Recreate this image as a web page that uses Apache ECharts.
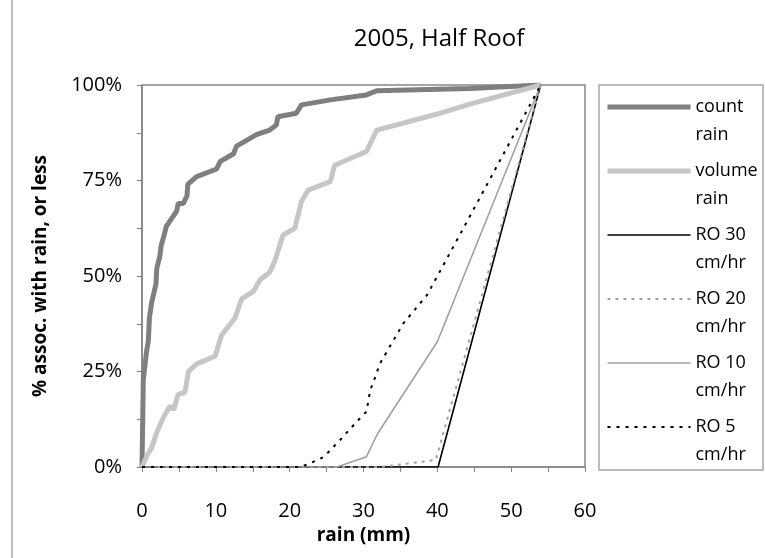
<!DOCTYPE html>
<html>
<head>
<meta charset="utf-8">
<script src="https://cdn.jsdelivr.net/npm/echarts@6/dist/echarts.min.js"></script>
<style>html,body{margin:0;padding:0;background:#fff;}#c{width:765px;height:558px;}</style>
</head>
<body>
<div id="c"></div>
<script>
const titleText = '2005, Half Roof';
const xName = 'rain (mm)';
const yName = '% assoc. with rain, or less';
const seriesNames = ['count rain', 'volume rain', 'RO 30 cm/hr', 'RO 20 cm/hr', 'RO 10 cm/hr', 'RO 5 cm/hr'];
const legendLines = [['count', 'rain'], ['volume', 'rain'], ['RO 30', 'cm/hr'], ['RO 20', 'cm/hr'], ['RO 10', 'cm/hr'], ['RO 5', 'cm/hr']];

const countX = [0, 0.18, 0.18, 0.6, 0.86, 1.0, 1.3, 1.9, 2.0, 2.4, 2.6, 2.9, 3.3, 4.0, 4.7, 4.9, 5.6, 6.1, 6.2, 7.4, 10.1, 10.6, 12.4, 12.8, 13.7, 15.5, 17.3, 18.2, 18.4, 20.9, 21.6, 25.5, 30.4, 31.8, 44.4, 54];
const countY = [0, 0, 23, 30, 33, 39, 43, 48, 52, 55, 58, 60, 63, 65, 67, 69, 69, 71, 74, 76, 78, 80, 82, 84, 85, 87, 88.2, 89.5, 91.7, 92.6, 94.8, 96.1, 97.4, 98.5, 99.1, 100];

const volumeX = [0, 0.68, 1.3, 2.0, 2.9, 3.8, 4.3, 4.9, 5.8, 6.3, 7.4, 9.9, 10.8, 12.6, 13.5, 15.1, 16.0, 17.3, 18.0, 19.1, 20.7, 21.6, 22.5, 25.5, 26.1, 30.4, 31.8, 40, 44.4, 54];
const volumeY = [0, 3, 5, 9, 13, 16, 15, 19, 19.5, 25, 27, 29, 34.6, 39, 44, 46, 49, 51, 54, 60.7, 62.5, 69.5, 72.5, 74.7, 79, 82.6, 88.2, 92.4, 95, 100];

const ro30X = [0, 40.1, 54];
const ro30Y = [0, 0, 100];
const ro20X = [0, 32.3, 38, 39.8, 54];
const ro20Y = [0, 0, 1.4, 1.9, 100];
const ro10X = [0, 26.4, 30.4, 31.9, 40, 54];
const ro10Y = [0, 0, 2.7, 8.7, 32.8, 100];
const ro5X = [0, 21.5, 22.8, 24.6, 26.8, 28.2, 29.3, 30.4, 30.9, 31.6, 32.2, 35.4, 38.6, 41.7, 45.6, 54];
const ro5Y = [0, 0, 1, 2.6, 7, 10, 12.3, 14.5, 20, 23.6, 27, 37.6, 45, 56, 69.9, 100];

const xTicks = {min: 0, max: 60, interval: 10};
const yTicks = {min: 0, max: 100, interval: 25};

function pairs(xs, ys) { return xs.map((x, i) => [x, ys[i]]); }

const FONT = '"Open Sans", "Noto Sans", sans-serif';
const chart = echarts.init(document.getElementById('c'), null, {renderer: 'canvas'});

const styles = [
  {color: '#7f7f7f', width: 5, type: 'solid'},
  {color: '#c6c6c6', width: 5, type: 'solid'},
  {color: '#000000', width: 1.6, type: 'solid'},
  {color: '#a0a0a0', width: 2, type: [3, 5]},
  {color: '#a0a0a0', width: 1.6, type: 'solid'},
  {color: '#000000', width: 2, type: [3, 6]}
];
const datas = [pairs(countX, countY), pairs(volumeX, volumeY), pairs(ro30X, ro30Y), pairs(ro20X, ro20Y), pairs(ro10X, ro10Y), pairs(ro5X, ro5Y)];

chart.setOption({
  animation: false,
  backgroundColor: '#fff',
  graphic: [
    {type: 'rect', shape: {x: 12, y: -5, width: 800, height: 600}, style: {fill: 'none', stroke: '#a6a6a6', lineWidth: 1.5}, z: -1},
    {type: 'rect', shape: {x: 599, y: 85, width: 164, height: 385}, style: {fill: '#fff', stroke: '#a6a6a6', lineWidth: 1.5}, z: 0}
  ],
  title: {
    text: titleText, left: 434, top: 22, textAlign: 'center',
    textStyle: {fontFamily: FONT, fontSize: 24, fontWeight: 'normal', color: '#000'}
  },
  legend: {
    orient: 'vertical', left: 605, top: 65, padding: 0, itemGap: -20,
    itemWidth: 83, itemHeight: 14,
    data: seriesNames,
    itemStyle: {opacity: 0},
    lineStyle: {width: 'inherit', type: 'inherit', color: 'inherit'},
    formatter: function (name) {
      const l = legendLines[seriesNames.indexOf(name)];
      return '\n' + l[0] + '\n' + l[1];
    },
    textStyle: {fontFamily: FONT, fontSize: 18, color: '#000', lineHeight: 28},
    z: 5
  },
  grid: {left: 142, right: 180, top: 85, bottom: 91, show: true, borderColor: '#868686', borderWidth: 1.5},
  xAxis: {
    type: 'value', min: xTicks.min, max: xTicks.max, interval: xTicks.interval,
    name: xName, nameLocation: 'middle', nameGap: 59,
    nameTextStyle: {fontFamily: FONT, fontSize: 19, fontWeight: 'bold', color: '#000'},
    axisLine: {lineStyle: {color: '#868686', width: 1.5}},
    axisTick: {show: true, length: 5, lineStyle: {color: '#868686'}},
    minorTick: {show: true, splitNumber: 2, length: 5, lineStyle: {color: '#868686'}},
    splitLine: {show: false},
    axisLabel: {fontFamily: FONT, fontSize: 20, color: '#000', margin: 34}
  },
  yAxis: {
    type: 'value', min: yTicks.min, max: yTicks.max, interval: yTicks.interval,
    name: yName, nameLocation: 'middle', nameGap: 92,
    nameTextStyle: {fontFamily: FONT, fontSize: 19, fontWeight: 'bold', color: '#000'},
    axisLine: {show: true, lineStyle: {color: '#868686', width: 1.5}},
    axisTick: {show: true, length: 5, lineStyle: {color: '#868686'}},
    minorTick: {show: true, splitNumber: 2, length: 5, lineStyle: {color: '#868686'}},
    splitLine: {show: false},
    axisLabel: {fontFamily: FONT, fontSize: 20, color: '#000', margin: 20, formatter: '{value}%'}
  },
  series: seriesNames.map((n, i) => ({
    name: n, type: 'line', data: datas[i], symbol: 'none', showSymbol: false,
    lineStyle: styles[i], itemStyle: {color: styles[i].color}, z: 2 + i
  }))
});
</script>
</body>
</html>
